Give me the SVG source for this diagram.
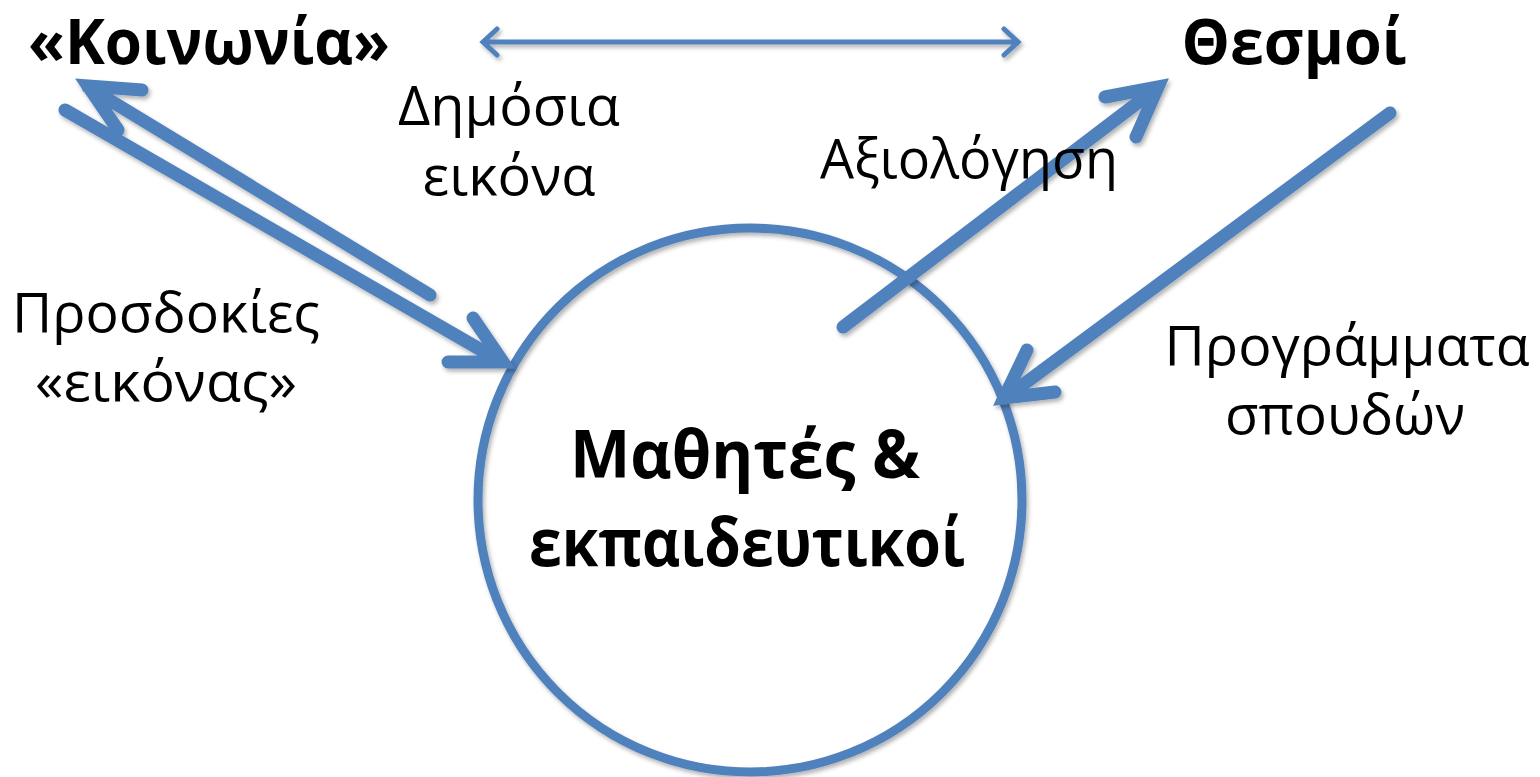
<svg xmlns="http://www.w3.org/2000/svg" width="1540" height="777" viewBox="0 0 1540 777">
<style>
.ln{fill:none;stroke:#4F81BD;stroke-linecap:round;stroke-linejoin:miter;stroke-miterlimit:10}
.thick{stroke-width:13}
.thin{stroke-width:5}
.reg{font-family:"Open Sans","Noto Sans",sans-serif;font-size:54px;fill:#000;text-anchor:middle}
.bold{font-family:"Open Sans","Noto Sans",sans-serif;font-size:66px;font-weight:700;fill:#000;text-anchor:middle}
.top{font-size:62px}
</style>
<defs>
<filter id="sh" x="-10%" y="-10%" width="120%" height="120%">
<feDropShadow dx="2" dy="3" stdDeviation="2" flood-color="#000" flood-opacity="0.3"/>
</filter>
</defs>
<rect width="1540" height="777" fill="#fff"/>
<g id="center-node">
<circle cx="750" cy="500" r="272" fill="none" stroke="#4F81BD" stroke-width="9" filter="url(#sh)"/>
<text class="bold" x="745" y="478" textLength="350" lengthAdjust="spacingAndGlyphs">Μαθητές &amp;</text>
<text class="bold" x="747" y="566" textLength="436" lengthAdjust="spacingAndGlyphs">εκπαιδευτικοί</text>
</g>
<g id="society-node">
<text class="bold top" x="209" y="64" textLength="362" lengthAdjust="spacingAndGlyphs">«Κοινωνία»</text>
</g>
<g id="institutions-node">
<text class="bold top" x="1294" y="64" textLength="225" lengthAdjust="spacingAndGlyphs">Θεσμοί</text>
</g>
<g id="connectors" filter="url(#sh)">
<path class="ln thin" d="M483 42 L1018 42 M497 29 L483 42 L497 55 M1004 29 L1018 42 L1004 55"/>
<path class="ln thick" d="M430 295 L88 87 M142 90 L88 86 L118 130"/>
<path class="ln thick" d="M65 110 L502 362 M473 318 L503 362 L448 362"/>
<path class="ln thick" d="M843 327 L1157 88 M1105 97 L1158 87 L1136 137"/>
<path class="ln thick" d="M1390 113 L1005 398 M1027 350 L1004 398 L1055 392"/>
</g>
<g id="labels">
<text class="reg" x="509" y="125" textLength="222" lengthAdjust="spacingAndGlyphs">Δημόσια</text>
<text class="reg" x="509" y="195" textLength="173" lengthAdjust="spacingAndGlyphs">εικόνα</text>
<text class="reg" x="969" y="178" textLength="298" lengthAdjust="spacingAndGlyphs">Αξιολόγηση</text>
<text class="reg" x="166" y="332" textLength="308" lengthAdjust="spacingAndGlyphs">Προσδοκίες</text>
<text class="reg" x="166" y="401" textLength="262" lengthAdjust="spacingAndGlyphs">«εικόνας»</text>
<text class="reg" x="1347" y="365" textLength="365" lengthAdjust="spacingAndGlyphs">Προγράμματα</text>
<text class="reg" x="1345" y="434" textLength="240" lengthAdjust="spacingAndGlyphs">σπουδών</text>
</g>
</svg>
